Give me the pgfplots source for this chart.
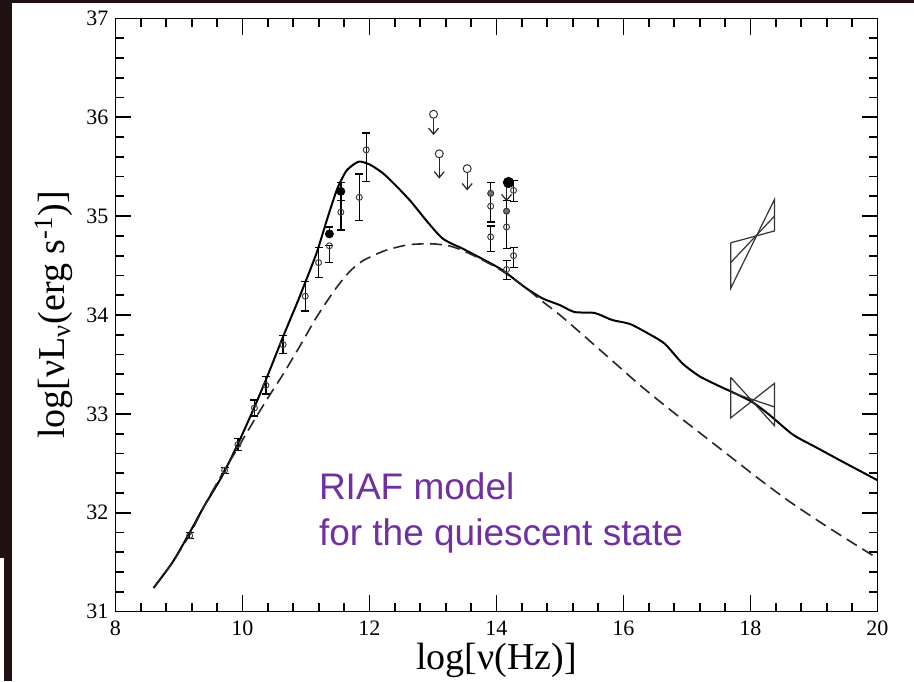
\documentclass[border=0pt]{standalone}
\usepackage{fontspec}
\setmainfont{Liberation Serif}
\newfontfamily\arialfont{Liberation Sans}
\usepackage{pgfplots}
\pgfplotsset{compat=1.18}
\usetikzlibrary{arrows.meta}
\definecolor{darkbg}{HTML}{1F1012}
\definecolor{riaf}{HTML}{7030A0}

\pgfplotstableread{
x y
8.6 31.24
8.9 31.50
9.17 31.80
9.4 32.07
9.67 32.36
9.91 32.67
10.17 33.04
10.38 33.36
10.64 33.78
10.86 34.12
10.99 34.33
11.17 34.63
11.33 34.96
11.49 35.27
11.64 35.46
11.83 35.55
12.01 35.52
12.22 35.43
12.43 35.30
12.65 35.15
12.89 34.96
13.05 34.84
13.16 34.77
13.30 34.72
13.44 34.68
13.71 34.59
14.08 34.46
14.45 34.28
14.72 34.17
15.00 34.10
15.23 34.03
15.55 34.02
15.82 33.95
16.10 33.91
16.37 33.82
16.65 33.71
16.93 33.51
17.20 33.38
17.48 33.29
17.75 33.21
18.03 33.12
18.30 32.99
18.67 32.79
19.04 32.66
19.50 32.50
20.00 32.33
}\solidcurve

\pgfplotstableread{
x y
8.6 31.24
8.9 31.50
9.17 31.78
9.4 32.07
9.67 32.38
9.95 32.68
10.18 32.93
10.41 33.17
10.64 33.40
10.90 33.68
11.17 33.98
11.45 34.25
11.69 34.44
11.90 34.55
12.24 34.65
12.61 34.71
12.98 34.72
13.25 34.70
13.44 34.66
13.71 34.58
14.08 34.45
14.45 34.28
14.72 34.14
15.00 34.00
15.36 33.80
15.82 33.54
16.28 33.28
16.74 33.04
17.20 32.81
17.66 32.58
18.12 32.35
18.58 32.13
19.04 31.93
19.50 31.74
20.00 31.54
}\dashedcurve

\pgfplotstableread{
x y ep em
9.17 31.77 0.03 0.03
9.72 32.43 0.03 0.03
9.93 32.69 0.06 0.06
10.19 33.06 0.08 0.08
10.37 33.29 0.09 0.09
10.64 33.70 0.09 0.09
10.99 34.19 0.15 0.15
11.20 34.53 0.15 0.15
11.37 34.70 0.00 0.17
11.55 35.04 0.12 0.18
11.84 35.19 0.235 0.235
11.95 35.67 0.17 0.32
13.91 35.10 0.24 0.16
13.91 34.79 0.11 0.15
14.16 34.89 0.27 0.22
14.16 34.46 0.09 0.10
14.27 35.26 0.10 0.11
14.27 34.60 0.08 0.12
}\opendata

\pgfplotstableread{
x y ep em
11.37 34.82 0.07 0.00
11.55 35.25 0.09 0.09
}\filleddata

\pgfplotstableread{
x y
13.91 35.23
14.16 35.05
}\extramarks

\pgfplotstableread{
x y
13.01 36.03
13.10 35.63
13.54 35.48
}\limits

\begin{document}
\begin{tikzpicture}
\useasboundingbox (0,0) rectangle (457pt,340.5pt);
\fill[darkbg] (0,0) rectangle (457pt,340.5pt);
\fill[white] (6pt,0) rectangle (457pt,339.15pt);
\fill[white] (0,0) rectangle (2pt,61.5pt);
\begin{axis}[
  at={(57.7pt,34.65pt)}, anchor=south west,
  scale only axis, width=381pt, height=296.7pt,
  clip=false,
  xmin=8, xmax=20, ymin=31, ymax=37,
  xtick={8,10,...,20}, ytick={31,32,...,37},
  major tick length=0pt, minor tick length=0pt,
  tick style={draw=none},
  axis line style={line width=0.7pt},
  tick label style={font=\fontsize{11}{13}\selectfont},
  xticklabel style={yshift=-1pt},
  /pgf/number format/assume math mode=true,
  xlabel={log[ν(Hz)]},
  ylabel={log[νL\textsubscript{ν}(erg s\textsuperscript{-1})]},
  label style={font=\fontsize{19}{22}\selectfont},
  xlabel style={at={(axis description cs:0.5,-0.082)}, anchor=center},
  ylabel style={at={(axis description cs:-0.0806,0.5)}, anchor=center},
]
% tick marks (inside, on all four sides), drawn in axis units
\pgfplotsinvokeforeach{10,12,14,16,18}{
  \draw[line width=0.9pt, black] (axis cs:#1,31) -- (axis cs:#1,31.165);
  \draw[line width=0.9pt, black] (axis cs:#1,37) -- (axis cs:#1,36.835);
}
\pgfplotsinvokeforeach{8.4,8.8,9.2,9.6,10.4,10.8,11.2,11.6,12.4,12.8,13.2,13.6,14.4,14.8,15.2,15.6,16.4,16.8,17.2,17.6,18.4,18.8,19.2,19.6}{
  \draw[line width=0.9pt, black] (axis cs:#1,31) -- (axis cs:#1,31.085);
  \draw[line width=0.9pt, black] (axis cs:#1,37) -- (axis cs:#1,36.915);
}
\pgfplotsinvokeforeach{32,33,34,35,36}{
  \draw[line width=0.9pt, black] (axis cs:8,#1) -- (axis cs:8.24,#1);
  \draw[line width=0.9pt, black] (axis cs:20,#1) -- (axis cs:19.76,#1);
}
\pgfplotsinvokeforeach{31.2,31.4,31.6,31.8,32.2,32.4,32.6,32.8,33.2,33.4,33.6,33.8,34.2,34.4,34.6,34.8,35.2,35.4,35.6,35.8,36.2,36.4,36.6,36.8}{
  \draw[line width=0.9pt, black] (axis cs:8,#1) -- (axis cs:8.14,#1);
  \draw[line width=0.9pt, black] (axis cs:20,#1) -- (axis cs:19.86,#1);
}

\addplot[black, line width=1pt, smooth, tension=0.4] table[x=x,y=y] {\solidcurve};
\addplot[black!85, line width=0.8pt, dash pattern=on 6pt off 3.2pt, smooth, tension=0.4] table[x=x,y=y] {\dashedcurve};

\addplot[only marks, mark=o, mark size=1.5pt, mark options={black!75, line width=0.5pt},
  error bars/.cd, y dir=both, y explicit,
  error bar style={line width=0.7pt, black},
  error mark options={rotate=90, mark size=2pt, line width=0.7pt, black}]
  table[x=x, y=y, y error plus=ep, y error minus=em] {\opendata};
\addplot[only marks, mark=*, mark size=2pt, mark options={black, fill=black},
  error bars/.cd, y dir=both, y explicit,
  error bar style={line width=0.7pt, black},
  error mark options={rotate=90, mark size=2pt, line width=0.7pt, black}]
  table[x=x, y=y, y error plus=ep, y error minus=em] {\filleddata};
\addplot[only marks, mark=*, mark size=1.5pt, mark options={black!80, fill=black!55, line width=0.5pt}]
  table[x=x, y=y] {\extramarks};
\addplot[only marks, mark=*, mark size=2.6pt, mark options={black, fill=black}] coordinates {(14.19,35.34)};

% upper limits
\addplot[only marks, mark=o, mark size=2pt, mark options={black!80, line width=0.5pt}] table[x=x,y=y] {\limits};
\addplot[black!85, line width=0.6pt, -{Straight Barb[length=3pt,width=5pt]}] coordinates {(13.01,35.99) (13.01,35.82)};
\addplot[black!85, line width=0.6pt, -{Straight Barb[length=3pt,width=5pt]}] coordinates {(13.10,35.59) (13.10,35.38)};
\addplot[black!85, line width=0.6pt, -{Straight Barb[length=3pt,width=5pt]}] coordinates {(13.54,35.44) (13.54,35.26)};
\addplot[black!85, line width=0.6pt, -{Straight Barb[length=3pt,width=5pt]}] coordinates {(14.16,35.30) (14.16,35.15)};

% bowties
\addplot[black!80, line width=0.6pt] coordinates {(17.69,34.73) (18.38,34.85) (18.38,35.17) (17.69,34.27) (17.69,34.73)};
\addplot[black!80, line width=0.6pt] coordinates {(17.69,34.53) (18.38,35.00)};
\addplot[black!80, line width=0.6pt] coordinates {(17.69,33.37) (18.38,32.88) (18.38,33.31) (17.69,32.96) (17.69,33.37)};
\addplot[black!80, line width=0.6pt] coordinates {(17.69,33.22) (18.38,33.07)};

\node[anchor=base west, text=riaf, font=\arialfont\fontsize{18.5}{22}\selectfont, inner sep=0pt] at (axis cs:11.2,32.13) {RIAF model};
\node[anchor=base west, text=riaf, font=\arialfont\fontsize{18.5}{22}\selectfont, inner sep=0pt] at (axis cs:11.2,31.67) {for the quiescent state};
\end{axis}
\end{tikzpicture}
\end{document}
